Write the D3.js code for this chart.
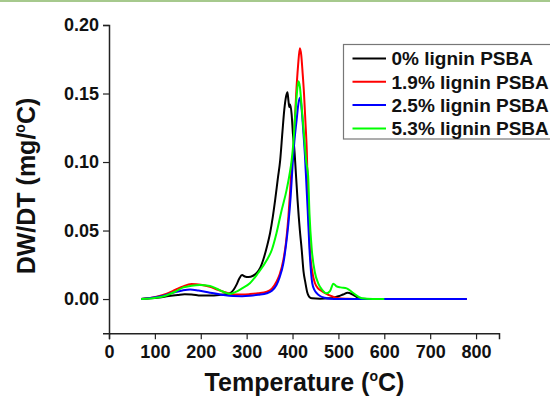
<!DOCTYPE html>
<html>
<head>
<meta charset="utf-8">
<script src="https://cdn.jsdelivr.net/npm/d3@7"></script>
<style>
    body { margin: 0; background: #fff; }
    svg { display: block; font-family: "Liberation Sans", Arial, sans-serif; }
</style>
</head>
<body>
<svg id="vis"></svg>
<script>
// series names / colours (legend order)
const seriesNames = ["0% lignin PSBA", "1.9% lignin PSBA", "2.5% lignin PSBA", "5.3% lignin PSBA"];
const seriesColors = ["#000000", "#ff0000", "#0000ff", "#00ff00"];

const xTicks = [0, 100, 200, 300, 400, 500, 600, 700, 800];
const yTicks = [0.00, 0.05, 0.10, 0.15, 0.20];

// values (temperature in C, DW/DT in mg/C)
const temp0 = [70, 90, 110, 130, 150, 165, 180, 200, 220, 240, 255, 265, 272, 278, 284, 290, 296, 304, 314, 322, 330, 336, 344, 351, 357, 362, 368, 373, 378, 382, 386, 389, 391, 393, 395, 398, 401, 404, 408, 411, 416, 420, 424, 428, 432, 436, 442, 460, 480, 490, 500, 510, 520, 530, 540, 550, 575, 600];
const dw0 = [0, 0.0005, 0.0012, 0.0022, 0.003, 0.0035, 0.0034, 0.0026, 0.0026, 0.003, 0.0036, 0.0045, 0.007, 0.0105, 0.015, 0.0175, 0.0165, 0.016, 0.017, 0.019, 0.023, 0.0285, 0.038, 0.048, 0.06, 0.072, 0.088, 0.101, 0.122, 0.138, 0.148, 0.151, 0.145, 0.14, 0.142, 0.135, 0.12, 0.109, 0.088, 0.072, 0.05, 0.036, 0.02, 0.012, 0.005, 0.0018, 0.0005, 0.0003, 0.0005, 0.001, 0.002, 0.0033, 0.0046, 0.0035, 0.0015, 0.0003, 0, 0];

const temp19 = [70, 90, 110, 126, 145, 160, 180, 200, 220, 235, 249, 260, 271, 290, 307, 325, 344, 355, 365, 372, 380, 386, 391, 395, 398, 402, 405, 408, 412, 416, 419, 422, 425, 428, 431, 434, 438, 443, 449, 455, 460, 470, 478, 490, 500, 520, 550, 600, 700, 780];
const dw19 = [0, 0.0008, 0.0022, 0.004, 0.0068, 0.009, 0.011, 0.0105, 0.009, 0.007, 0.0053, 0.0042, 0.0034, 0.0033, 0.0036, 0.0042, 0.0053, 0.0075, 0.0126, 0.018, 0.0285, 0.042, 0.06, 0.08, 0.0966, 0.109, 0.13, 0.15, 0.17, 0.183, 0.178, 0.165, 0.15, 0.13, 0.109, 0.072, 0.036, 0.02, 0.0115, 0.008, 0.0066, 0.0045, 0.003, 0.0015, 0.0005, 0.0002, 0, 0, 0, 0];

const temp25 = [70, 90, 110, 126, 145, 160, 177, 195, 220, 245, 271, 290, 307, 325, 344, 355, 365, 372, 380, 386, 391, 396, 400, 404, 409, 413, 417, 420, 424, 427, 430, 433, 437, 443, 448, 453, 460, 470, 480, 500, 550, 600, 700, 780];
const dw25 = [0, 0.0007, 0.0018, 0.0032, 0.0052, 0.0063, 0.007, 0.0062, 0.0046, 0.0032, 0.0022, 0.0021, 0.0024, 0.0031, 0.0042, 0.006, 0.0102, 0.016, 0.026, 0.04, 0.055, 0.075, 0.097, 0.115, 0.131, 0.143, 0.147, 0.138, 0.12, 0.105, 0.085, 0.065, 0.036, 0.0115, 0.0065, 0.0042, 0.0022, 0.001, 0.0003, 0, 0, 0, 0, 0];

const temp53 = [70, 90, 110, 126, 145, 162, 180, 198, 220, 235, 249, 264, 275, 290, 307, 325, 344, 355, 365, 375, 387, 393, 398, 402, 406, 410, 413, 416, 420, 425, 430, 434, 437, 442, 449, 456, 465, 474, 482, 489, 495, 505, 518, 533, 551, 575, 600];
const dw53 = [0, 0.0004, 0.0013, 0.0028, 0.0055, 0.0085, 0.0097, 0.0102, 0.0095, 0.0075, 0.0053, 0.0038, 0.005, 0.0078, 0.0115, 0.019, 0.0285, 0.036, 0.048, 0.063, 0.0795, 0.09, 0.101, 0.115, 0.135, 0.152, 0.159, 0.155, 0.14, 0.12, 0.1, 0.09, 0.062, 0.036, 0.019, 0.0115, 0.0065, 0.0042, 0.006, 0.0112, 0.0095, 0.0085, 0.0078, 0.0042, 0.0005, 0, 0];

function main()
{
    const width = 550;
    const height = 403;

    // plot box
    const plot = {left: 109, right: 499, top: 25, bottom: 333.3};

    let svg = d3.select('#vis')
        .attr('width', width)
        .attr('height', height);

    // thin green rule along the top edge of the picture
    svg.append('rect')
        .attr('x', 0).attr('y', 0)
        .attr('width', width).attr('height', 2)
        .attr('fill', '#a6c98d');

    let xScale = d3.scaleLinear()
        .domain([0, 850])
        .range([plot.left, plot.right]);

    let yScale = d3.scaleLinear()
        .domain([-0.025, 0.20])
        .range([plot.bottom, plot.top]);

    // x axis: majors every 100, minors every 50
    let xAxis = svg.append('g')
        .attr('transform', 'translate(0,' + plot.bottom + ')');
    xAxis.call(d3.axisBottom(xScale)
        .tickValues(d3.range(50, 851, 100))
        .tickSize(3)
        .tickFormat(''));
    xAxis.call(d3.axisBottom(xScale)
        .tickValues(xTicks)
        .tickSize(6)
        .tickPadding(6)
        .tickFormat(d3.format('d')));

    let yAxis = svg.append('g')
        .attr('transform', 'translate(' + plot.left + ',0)');
    yAxis.call(d3.axisLeft(yScale)
        .tickValues([-0.025, 0.025, 0.075, 0.125, 0.175])
        .tickSize(3)
        .tickFormat(''));
    yAxis.call(d3.axisLeft(yScale)
        .tickValues(yTicks)
        .tickSize(6)
        .tickPadding(4)
        .tickFormat(d3.format('.2f')));

    svg.selectAll('.domain')
        .attr('stroke', '#222')
        .attr('stroke-width', 1.5);
    svg.selectAll('.tick line')
        .attr('stroke', '#222')
        .attr('stroke-width', 1.2);
    svg.selectAll('.tick text')
        .attr('fill', '#111')
        .style('font-size', '18px')
        .style('font-weight', 'bold')
        .style('font-family', '"Liberation Sans", Arial, sans-serif');

    // axis titles
    let xTitle = svg.append('text')
        .attr('x', 304.5)
        .attr('y', 391)
        .attr('text-anchor', 'middle')
        .style('font-size', '25px')
        .style('font-weight', 'bold')
        .attr('fill', '#111');
    xTitle.append('tspan').text('Temperature (');
    xTitle.append('tspan').attr('dy', -10).style('font-size', '14px').text('o');
    xTitle.append('tspan').attr('dy', 10).text('C)');

    let yTitle = svg.append('text')
        .attr('transform', 'translate(35,186) rotate(-90)')
        .attr('text-anchor', 'middle')
        .style('font-size', '25px')
        .style('font-weight', 'bold')
        .attr('fill', '#111');
    yTitle.append('tspan').text('DW/DT (mg/');
    yTitle.append('tspan').attr('dy', -10).style('font-size', '14px').text('o');
    yTitle.append('tspan').attr('dy', 10).text('C)');

    // curves
    const series = [
        {temp: temp0, dw: dw0},
        {temp: temp19, dw: dw19},
        {temp: temp25, dw: dw25},
        {temp: temp53, dw: dw53}
    ];

    let line = d3.line()
        .x(d => xScale(d[0]))
        .y(d => yScale(d[1]))
        .curve(d3.curveMonotoneX);

    svg.append('g')
        .selectAll('path')
        .data(series)
        .enter()
        .append('path')
        .attr('d', s => line(d3.zip(s.temp, s.dw)))
        .attr('fill', 'none')
        .attr('stroke', (s, i) => seriesColors[i])
        .attr('stroke-width', 2)
        .attr('stroke-linejoin', 'round');

    // legend box (runs past the right edge like the picture)
    let legend = svg.append('g');
    legend.append('rect')
        .attr('x', 343.5)
        .attr('y', 44.5)
        .attr('width', 215)
        .attr('height', 94.5)
        .attr('fill', '#fff')
        .attr('stroke', '#777')
        .attr('stroke-width', 1.2);

    let rows = legend.selectAll('g.row')
        .data(seriesNames)
        .enter()
        .append('g')
        .attr('class', 'row')
        .attr('transform', (d, i) => 'translate(0,' + (58.5 + i * 23.3) + ')');

    rows.append('line')
        .attr('x1', 352.5).attr('x2', 386)
        .attr('y1', 0).attr('y2', 0)
        .attr('stroke', (d, i) => seriesColors[i])
        .attr('stroke-width', 2);

    rows.append('text')
        .attr('x', 391.5)
        .attr('dy', '0.36em')
        .style('font-size', '19px')
        .style('font-weight', 'bold')
        .attr('fill', '#111')
        .text(d => d);
}

main();
</script>
</body>
</html>
